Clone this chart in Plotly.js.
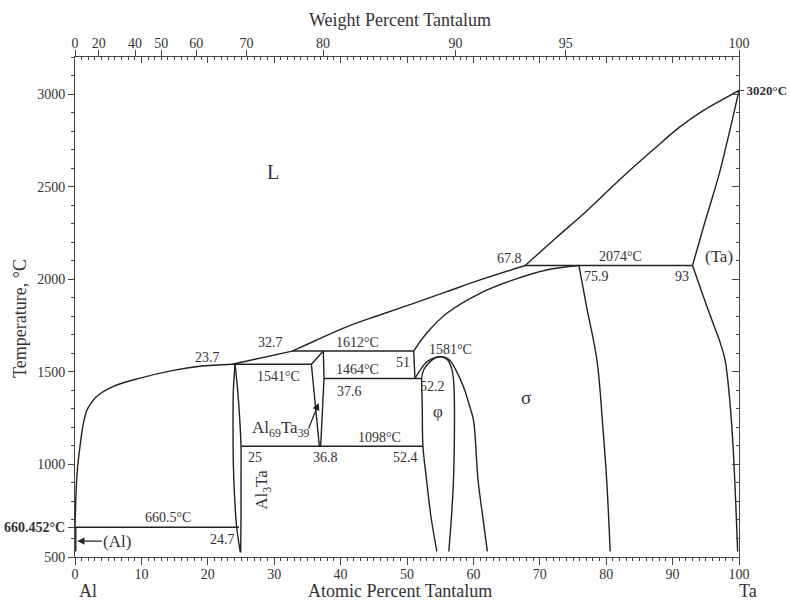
<!DOCTYPE html>
<html>
<head>
<meta charset="utf-8">
<script src="https://cdn.plot.ly/plotly-3.0.1.min.js"></script>
<style>html,body{margin:0;padding:0;background:#fff}#plot{width:790px;height:603px}</style>
</head>
<body>
<div id="plot"></div>
<script>
// ---- data (at.% Ta, °C) ----
const liqAlX = [0, 0.08, 0.2, 0.4, 0.75, 1.2, 1.76, 2.5, 3.3, 5.7, 9.8, 14.8, 18.8, 23.7];
const liqAlY = [660.452, 760, 880, 990, 1096, 1210, 1290, 1335, 1368, 1420, 1466, 1508, 1530, 1541];
const solAlX = [0.12, 0.12];
const solAlY = [660.452, 530];
const liq2X = [23.7, 32.7];
const liq2Y = [1541, 1612];
const liq3X = [32.7, 36, 40.9, 46, 51, 56, 61, 67.8];
const liq3Y = [1612, 1665, 1743, 1808, 1870, 1933, 1996, 2074];
const liqTaX = [67.8, 72.5, 77.1, 82.1, 87.1, 91.0, 94.6, 97.5, 100];
const liqTaY = [2074, 2225, 2370, 2540, 2700, 2820, 2910, 2970, 3020];
const solTaX = [93, 94.0, 95.1, 96.1, 97.1, 98.1, 99.1, 100];
const solTaY = [2074, 2200, 2337, 2455, 2580, 2725, 2877, 3020];
const solvTaX = [93, 94.5, 96.1, 97.1, 97.9, 98.6, 99.1, 99.5, 99.8];
const solvTaY = [2074, 1920, 1762, 1665, 1564, 1350, 1100, 800, 530];
const sigLiqX = [51, 52.95, 56, 61, 66, 71, 75.9];
const sigLiqY = [1612, 1708, 1816, 1924, 1996, 2050, 2074];
const sigRightX = [75.9, 77.05, 78.6, 79.5, 80.1, 80.6];
const sigRightY = [2074, 1851, 1564, 1200, 900, 530];
const al3taLX = [24.1, 23.85, 23.8, 23.85, 24.0, 24.35, 24.9];
const al3taLY = [1541, 1400, 1250, 1000, 850, 660.5, 525];
const al3taRX = [24.1, 24.5, 24.8, 25, 25, 25, 24.95];
const al3taRY = [1541, 1400, 1250, 1098, 900, 700, 525];
const a69LX = [35.6, 36.8];
const a69LY = [1541, 1098];
const a69TopX = [35.6, 37.4];
const a69TopY = [1541, 1612];
const a69RX = [37.4, 37.5, 37.0];
const a69RY = [1612, 1464, 1098];
const peri51X = [51, 51.2];
const peri51Y = [1612, 1464];
const phiInX = [52.2, 52.5, 53.2, 54.2, 55.2, 56.1, 56.7, 57.0, 57.1, 57.15, 57.0, 56.7, 56.3];
const phiInY = [1464, 1510, 1545, 1574, 1581, 1565, 1520, 1460, 1400, 1240, 916, 720, 530];
const phiOutX = [51.2, 52.0, 53.0, 54.2, 55.2, 56.3, 57.2, 57.9, 58.7, 59.3, 60.0, 60.7, 61.4, 62.1];
const phiOutY = [1464, 1510, 1554, 1577, 1581, 1568, 1520, 1470, 1400, 1330, 1240, 916, 720, 530];
const phiLowX = [52.2, 52.3, 52.4, 52.95, 53.6, 54.5];
const phiLowY = [1464, 1300, 1098, 916, 720, 530];
// invariant (horizontal) lines
const iso660X = [0, 24.7]; const iso660T = 660.5;
const iso1098X = [25, 52.4]; const iso1098T = 1098;
const iso1464X = [37.5, 52.2]; const iso1464T = 1464;
const iso1541X = [23.7, 35.6]; const iso1541T = 1541;
const iso1612X = [32.7, 51]; const iso1612T = 1612;
const iso2074X = [67.8, 93]; const iso2074T = 2074;
// top axis: weight percent ticks
const wtTicks = [0, 20, 40, 50, 60, 70, 80, 90, 95, 100];
const massAl = 26.98, massTa = 180.95;
// y ticks
const yTicks = [500, 660.452, 1000, 1500, 2000, 2500, 3000];
const yTickText = ['500', '<b>660.452°C</b>', '1000', '1500', '2000', '2500', '3000'];
// text labels
const lblText = ['L','23.7','32.7','1541°C','1612°C','51','1581°C','1464°C','37.6','52.2','φ','σ','1098°C','25','36.8','52.4','67.8','2074°C','75.9','93','(Ta)','660.5°C','24.7'];
const lblX =    [29.8, 19.9, 29.4, 30.6, 42.6, 49.4, 56.6, 42.6, 41.3, 53.9, 54.7, 67.9, 45.9, 27.1, 37.8, 49.7, 65.4, 82.1, 78.6, 91.4, 97.0, 14.0, 22.2];
const lblY =    [2579, 1580, 1656, 1477, 1661, 1553, 1623, 1510, 1396, 1423, 1288, 1364, 1148, 1040, 1035, 1035, 2114, 2125, 2017, 2017, 2125, 711, 592];
const lblSize = [20, 14, 14, 14, 14, 14, 14, 14, 14, 14, 17, 19, 14, 14, 14, 14, 14, 14, 14, 14, 17, 14, 14];

// ---- build ----
const wt2at = w => { if (w <= 0) return 0; if (w >= 100) return 100; const a = w / massTa, b = (100 - w) / massAl; return 100 * a / (a + b); };
const LC = '#222';
const traces = [];
function curve(x, y, spline) {
  traces.push({x: x, y: y, type: 'scatter', mode: 'lines', hoverinfo: 'skip', showlegend: false,
    line: {color: LC, width: 1.4, shape: spline ? 'spline' : 'linear', smoothing: 1}});
}
curve(liqAlX, liqAlY, true);
curve(solAlX, solAlY, false);
curve(liq2X, liq2Y, false);
curve(liq3X, liq3Y, true);
curve(liqTaX, liqTaY, true);
curve(solTaX, solTaY, true);
curve(solvTaX, solvTaY, true);
curve(sigLiqX, sigLiqY, true);
curve(sigRightX, sigRightY, true);
curve(al3taLX, al3taLY, true);
curve(al3taRX, al3taRY, true);
curve(a69LX, a69LY, false);
curve(a69TopX, a69TopY, false);
curve(a69RX, a69RY, false);
curve(peri51X, peri51Y, false);
curve(phiInX, phiInY, true);
curve(phiOutX, phiOutY, true);
curve(phiLowX, phiLowY, true);
[[iso660X, iso660T], [iso1098X, iso1098T], [iso1464X, iso1464T], [iso1541X, iso1541T], [iso1612X, iso1612T], [iso2074X, iso2074T]]
  .forEach(([xs, t]) => curve(xs, [t, t], false));

// dummy traces to activate overlay axes
traces.push({x: [0, 100], y: [500, 500], xaxis: 'x2', yaxis: 'y', mode: 'lines', line: {width: 0}, hoverinfo: 'skip', showlegend: false});
traces.push({x: [0, 100], y: [500, 500], xaxis: 'x3', yaxis: 'y', mode: 'lines', line: {width: 0}, hoverinfo: 'skip', showlegend: false});
traces.push({x: [0, 100], y: [500, 500], xaxis: 'x', yaxis: 'y2', mode: 'lines', line: {width: 0}, hoverinfo: 'skip', showlegend: false});
traces.push({x: [0, 100], y: [500, 500], xaxis: 'x', yaxis: 'y3', mode: 'lines', line: {width: 0}, hoverinfo: 'skip', showlegend: false});

const SERIF = 'Liberation Serif, Times New Roman, serif';
const TC = '#333';
const AX = '#444';
const tickFont = {family: SERIF, size: 14, color: TC};

const annotations = lblText.map((t, i) => ({
  x: lblX[i], y: lblY[i], xref: 'x', yref: 'y', text: t, showarrow: false,
  xanchor: 'center', yanchor: 'middle',
  font: {family: SERIF, size: lblSize[i], color: TC}
}));
annotations.push({x: 31.0, y: 1191, xref: 'x', yref: 'y', text: 'Al<sub>69</sub>Ta<sub>39</sub>', showarrow: false,
  xanchor: 'center', yanchor: 'middle', font: {family: SERIF, size: 17, color: TC}});
annotations.push({x: 36.7, y: 1332, xref: 'x', yref: 'y', ax: 35.1, ay: 1186, axref: 'x', ayref: 'y', text: '',
  showarrow: true, arrowhead: 2, arrowsize: 1.2, arrowwidth: 1.2, arrowcolor: LC});
annotations.push({x: 28.3, y: 862, xref: 'x', yref: 'y', text: 'Al<sub>3</sub>Ta', textangle: -90, showarrow: false,
  xanchor: 'center', yanchor: 'middle', font: {family: SERIF, size: 17, color: TC}});
annotations.push({x: 0.35, y: 586, xref: 'x', yref: 'y', ax: 40, ay: 0, text: '(Al)', showarrow: true,
  arrowhead: 2, arrowsize: 1.2, arrowwidth: 1.2, arrowcolor: LC, font: {family: SERIF, size: 17, color: TC}});
annotations.push({x: 0.489, y: 1, xref: 'paper', yref: 'paper', yshift: 37, xanchor: 'center', yanchor: 'middle',
  text: 'Weight Percent Tantalum', showarrow: false, font: {family: SERIF, size: 18, color: TC}});
annotations.push({x: 0.489, y: 0, xref: 'paper', yref: 'paper', yshift: -34, xanchor: 'center', yanchor: 'middle',
  text: 'Atomic Percent Tantalum', showarrow: false, font: {family: SERIF, size: 18, color: TC}});
annotations.push({x: 2.0, y: 0, xref: 'x', yref: 'paper', yshift: -34, xanchor: 'center', yanchor: 'middle',
  text: 'Al', showarrow: false, font: {family: SERIF, size: 18, color: TC}});
annotations.push({x: 1.0136, y: 0, xref: 'paper', yref: 'paper', yshift: -34, xanchor: 'center', yanchor: 'middle',
  text: 'Ta', showarrow: false, font: {family: SERIF, size: 18, color: TC}});
annotations.push({x: -0.083, y: 0.478, xref: 'paper', yref: 'paper', xanchor: 'center', yanchor: 'middle',
  text: 'Temperature, °C', textangle: -90, showarrow: false, font: {family: SERIF, size: 18, color: TC}});

const baseAx = {showgrid: false, zeroline: false, showline: true, linecolor: AX, linewidth: 1, tickcolor: AX, tickwidth: 1, tickfont: tickFont, fixedrange: true};

const layout = {
  width: 790, height: 603,
  margin: {l: 75, r: 51, t: 57, b: 46},
  paper_bgcolor: '#fff', plot_bgcolor: '#fff',
  showlegend: false,
  font: {family: SERIF, color: TC},
  xaxis: Object.assign({}, baseAx, {range: [0, 100], tickmode: 'linear', tick0: 0, dtick: 10, ticks: 'outside', ticklen: 7,
    ticklabelstandoff: -3,
    minor: {tickmode: 'linear', tick0: 0, dtick: 1, ticks: 'outside', ticklen: 3, tickcolor: AX}}),
  xaxis2: Object.assign({}, baseAx, {overlaying: 'x', side: 'top', range: [0, 100], tickmode: 'array',
    tickvals: wtTicks.map(wt2at), ticktext: wtTicks.map(String), ticks: 'outside', ticklen: 6, ticklabelstandoff: -4}),
  xaxis3: Object.assign({}, baseAx, {overlaying: 'x', side: 'top', range: [0, 100], tickmode: 'linear', tick0: 0, dtick: 10,
    ticks: 'inside', ticklen: 6, showticklabels: false,
    minor: {tickmode: 'linear', tick0: 0, dtick: 1, ticks: 'inside', ticklen: 3, tickcolor: AX}}),
  yaxis: Object.assign({}, baseAx, {range: [500, 3200], tickmode: 'array', tickvals: yTicks, ticktext: yTickText,
    ticks: 'outside', ticklen: 6,
    minor: {tickmode: 'linear', tick0: 500, dtick: 100, ticks: 'outside', ticklen: 3, tickcolor: AX}}),
  yaxis2: Object.assign({}, baseAx, {overlaying: 'y', side: 'right', range: [500, 3200], tickmode: 'linear', tick0: 500, dtick: 500,
    ticks: 'inside', ticklen: 7, showticklabels: false,
    minor: {tickmode: 'linear', tick0: 500, dtick: 100, ticks: 'inside', ticklen: 3, tickcolor: AX}}),
  yaxis3: Object.assign({}, baseAx, {overlaying: 'y', side: 'right', range: [500, 3200], showline: false, tickmode: 'array',
    tickvals: [3020], ticktext: ['<b>3020°C</b>'], ticks: 'outside', ticklen: 4, tickfont: {family: SERIF, size: 13, color: TC}}),
  annotations: annotations
};

Plotly.newPlot('plot', traces, layout, {staticPlot: true, displayModeBar: false});
</script>
</body>
</html>
